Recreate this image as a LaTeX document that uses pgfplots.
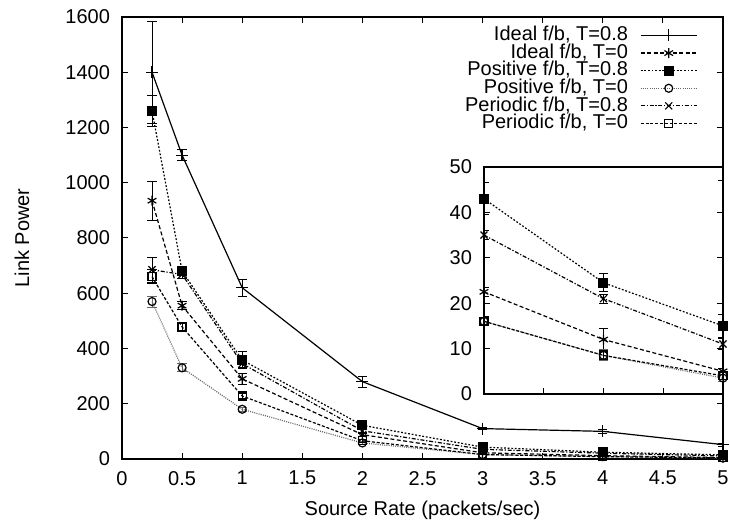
\documentclass[border=0pt]{standalone}
\usepackage{fontspec}
\setmainfont{Liberation Sans}
\usepackage{pgfplots}
\usepackage{pgfplotstable}
\pgfplotsset{compat=1.18}

% x  y  err
\pgfplotstableread{
x y e
0.25 1400 185
0.5 1100 20
1 620 30
2 280 20
3 110 5
4 100 8
5 52 5
}\idealA
\pgfplotstableread{
x y e
0.25 935 70
0.5 555 15
1 290 20
2 88 8
3 22.5 1
4 12 2.5
5 5 0.7
}\idealB
\pgfplotstableread{
x y e
0.25 1260 55
0.5 680 15
1 358 30
2 122 10
3 43 3.5
4 24.5 2
5 15 2.5
}\posA
\pgfplotstableread{
x y e
0.25 570 20
0.5 330 15
1 180 8
2 58 5
3 16 1
4 8.5 1.2
5 3.5 0.8
}\posB
\pgfplotstableread{
x y e
0.25 685 45
0.5 668 15
1 345 15
2 102 8
3 35 1
4 21 1
5 11 1.2
}\perA
\pgfplotstableread{
x y e
0.25 660 25
0.5 478 12
1 228 10
2 66 6
3 16 1
4 8.5 1
5 4 0.8
}\perB

\pgfplotsset{
  common/.style={
    scale only axis,
    font=\fontsize{10}{12}\selectfont,
    /pgf/number format/assume math mode=true,
    /pgf/number format/1000 sep={},
    tick align=inside,
    major tick length=3pt,
    tick style={black, line width=0.5pt},
    axis line style={line width=0.6pt},
    yticklabel style={xshift=-2.5pt},
    xticklabel style={yshift=-2.5pt},
    error bars/y dir=both,
    error bars/y explicit,
    error bars/error bar style={line width=0.5pt, solid},
    error bars/error mark options={rotate=90, mark size=2.3pt, line width=0.5pt, solid},
  },
  sA/.style={black, line width=0.6pt, mark=+, mark size=3pt, mark options={solid}},
  sB/.style={black, line width=0.6pt, dash pattern=on 2pt off 1.2pt, mark=asterisk, mark size=2.5pt, mark options={solid}},
  sC/.style={black, line width=0.6pt, dash pattern=on 0.9pt off 0.9pt, mark=square*, mark size=2.2pt, mark options={solid}},
  sD/.style={black!60, line width=0.6pt, dash pattern=on 0.5pt off 0.6pt, mark=o, mark size=2pt, mark options={solid, black}},
  sE/.style={black, line width=0.6pt, dash pattern=on 2pt off 0.9pt on 0.6pt off 0.9pt, mark=x, mark size=2.5pt, mark options={solid}},
  sF/.style={black, line width=0.6pt, dash pattern=on 1.5pt off 0.9pt, mark=square, mark size=2pt, mark options={solid}},
}

\begin{document}
\begin{tikzpicture}
\begin{axis}[
    common,
    name=main,
    width=300.5pt, height=221pt,
    xmin=0, xmax=5, ymin=0, ymax=1600,
    xtick={0,0.5,1,1.5,2,2.5,3,3.5,4,4.5,5},
    xticklabels={0,0.5,1,1.5,2,2.5,3,3.5,4,4.5,5},
    ytick={0,200,400,600,800,1000,1200,1400,1600},
    xlabel={Source Rate (packets/sec)},
    ylabel={Link Power},
    every axis x label/.style={at={(axis description cs:0.5,0)}, yshift=-25.5pt, anchor=center},
    every axis y label/.style={at={(axis description cs:0,0.5)}, xshift=-50pt, rotate=90, anchor=center},
    legend cell align=right,
    legend plot pos=right,
    legend style={at={(0.958,0.979)}, anchor=north east, draw=none, fill=none,
        column sep=6pt, row sep=0pt, inner sep=0pt,
        nodes={inner sep=0.1pt, text height=6.9pt, text depth=1.7pt}},
    legend image code/.code={\draw[mark repeat=2, mark phase=2, #1] plot coordinates {(0pt,0pt) (14pt,0pt) (28pt,0pt)};},
]
\addplot[sA] table[x=x, y=y, y error=e] {\idealA};
\addlegendentry{Ideal f/b, T=0.8}
\addplot[sB] table[x=x, y=y, y error=e] {\idealB};
\addlegendentry{Ideal f/b, T=0}
\addplot[sC] table[x=x, y=y, y error=e] {\posA};
\addlegendentry{Positive f/b, T=0.8}
\addplot[sD] table[x=x, y=y, y error=e] {\posB};
\addlegendentry{Positive f/b, T=0}
\addplot[sE] table[x=x, y=y, y error=e] {\perA};
\addlegendentry{Periodic f/b, T=0.8}
\addplot[sF] table[x=x, y=y, y error=e] {\perB};
\addlegendentry{Periodic f/b, T=0}
\end{axis}

% inset
\begin{axis}[
    common,
    at={(181pt,32.5pt)}, anchor=south west,
    width=119.5pt, height=113.5pt,
    xmin=3, xmax=5, ymin=0, ymax=50,
    xtick={3.5,4,4.5}, xticklabels={},
    xtick pos=bottom,
    ytick={0,10,20,30,40,50},
    axis background/.style={fill=white},
    restrict x to domain=3:5,
]
\addplot[sA] table[x=x, y=y, y error=e] {\idealA};
\addplot[sB] table[x=x, y=y, y error=e] {\idealB};
\addplot[sC] table[x=x, y=y, y error=e] {\posA};
\addplot[sD] table[x=x, y=y, y error=e] {\posB};
\addplot[sE] table[x=x, y=y, y error=e] {\perA};
\addplot[sF] table[x=x, y=y, y error=e] {\perB};
\end{axis}

\pgfresetboundingbox
\path[use as bounding box] (-61pt,-32pt) rectangle (304pt,229.5pt);
\end{tikzpicture}
\end{document}
